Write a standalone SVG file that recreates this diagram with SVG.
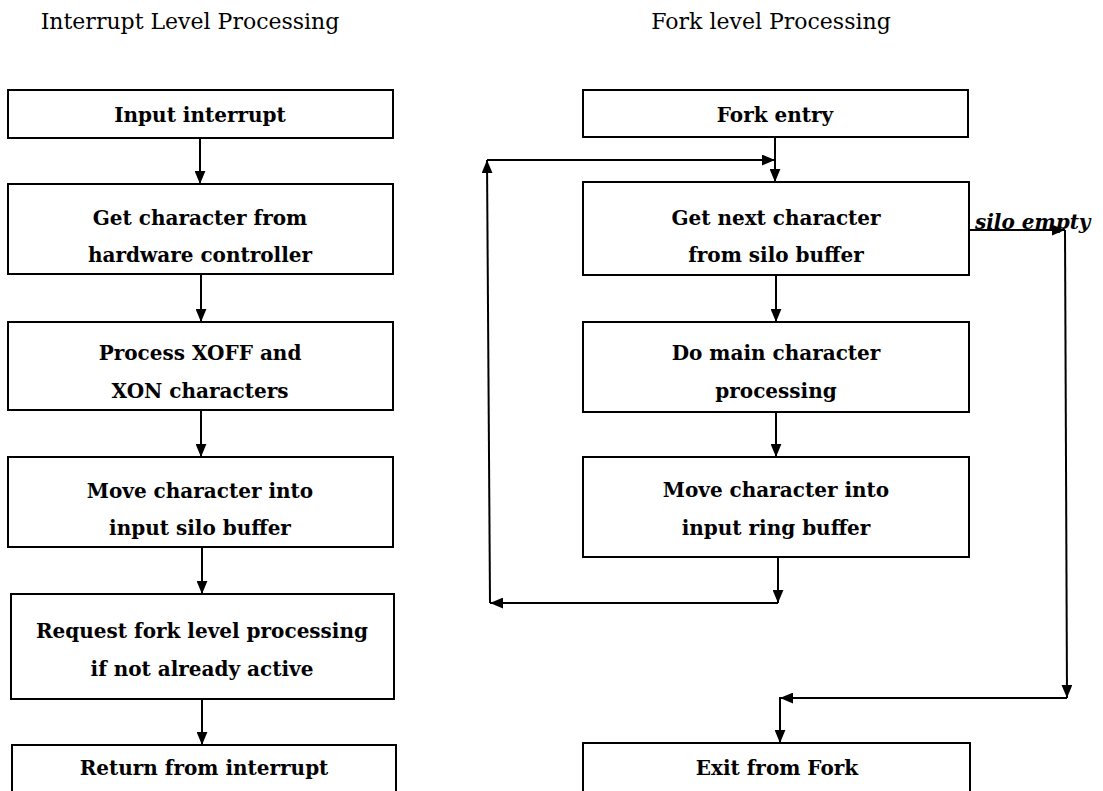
<svg xmlns="http://www.w3.org/2000/svg" width="1103" height="791" viewBox="0 0 1103 791">
<style>
.box{fill:none;stroke:#000;stroke-width:2}
.ln{fill:none;stroke:#000;stroke-width:2}
.t{font-family:"DejaVu Serif","Liberation Serif",serif;font-weight:bold;font-size:20px;text-anchor:middle;fill:#000}
.h{font-family:"DejaVu Serif","Liberation Serif",serif;font-size:22px;text-anchor:middle;fill:#000}
.lbl{font-family:"DejaVu Serif","Liberation Serif",serif;font-weight:bold;font-style:italic;font-size:20px;fill:#000}
</style>
<defs>
<marker id="ah" viewBox="0 0 12 10" refX="12" refY="5" markerWidth="13" markerHeight="11" markerUnits="userSpaceOnUse" orient="auto"><path d="M0,0 L12,5 L0,10 z" fill="#000"/></marker>
</defs>
<rect width="1103" height="791" fill="#fff"/>
<text class="h" x="190" y="29">Interrupt Level Processing</text>
<text class="h" x="771" y="29">Fork level Processing</text>

<g id="n_input"><rect class="box" x="8" y="90" width="385" height="48"/><text class="t" x="200" y="122">Input interrupt</text></g>
<g id="n_getchar"><rect class="box" x="8" y="184" width="385" height="90"/><text class="t" x="200" y="225">Get character from</text><text class="t" x="200" y="262">hardware controller</text></g>
<g id="n_xoff"><rect class="box" x="8" y="322" width="385" height="88"/><text class="t" x="200" y="360">Process XOFF and</text><text class="t" x="200" y="398">XON characters</text></g>
<g id="n_movesilo"><rect class="box" x="8" y="457" width="385" height="90"/><text class="t" x="200" y="498">Move character into</text><text class="t" x="200" y="535">input silo buffer</text></g>
<g id="n_request"><rect class="box" x="11" y="594" width="383" height="105"/><text class="t" x="202" y="638">Request fork level processing</text><text class="t" x="202" y="676">if not already active</text></g>
<g id="n_return"><rect class="box" x="12" y="745" width="384" height="60"/><text class="t" x="204" y="775">Return from interrupt</text></g>

<g id="n_forkentry"><rect class="box" x="583" y="90" width="385" height="47"/><text class="t" x="775" y="122">Fork entry</text></g>
<g id="n_getnext"><rect class="box" x="583" y="182" width="386" height="93"/><text class="t" x="776" y="225">Get next character</text><text class="t" x="776" y="262">from silo buffer</text></g>
<g id="n_domain"><rect class="box" x="583" y="322" width="386" height="90"/><text class="t" x="776" y="360">Do main character</text><text class="t" x="776" y="398">processing</text></g>
<g id="n_movering"><rect class="box" x="583" y="457" width="386" height="100"/><text class="t" x="776" y="497">Move character into</text><text class="t" x="776" y="535">input ring buffer</text></g>
<g id="n_exit"><rect class="box" x="583" y="743" width="387" height="60"/><text class="t" x="777" y="775">Exit from Fork</text></g>

<g id="connectors">
<line class="ln" x1="200" y1="138" x2="200" y2="184" marker-end="url(#ah)"/>
<line class="ln" x1="201" y1="274" x2="201" y2="322" marker-end="url(#ah)"/>
<line class="ln" x1="201" y1="410" x2="201" y2="457" marker-end="url(#ah)"/>
<line class="ln" x1="202" y1="547" x2="202" y2="594" marker-end="url(#ah)"/>
<line class="ln" x1="202" y1="699" x2="202" y2="745" marker-end="url(#ah)"/>

<line class="ln" x1="775" y1="137" x2="775" y2="182" marker-end="url(#ah)"/>
<line class="ln" x1="776" y1="275" x2="776" y2="322" marker-end="url(#ah)"/>
<line class="ln" x1="776" y1="412" x2="776" y2="457" marker-end="url(#ah)"/>
<line class="ln" x1="778" y1="557" x2="778" y2="603" marker-end="url(#ah)"/>
<line class="ln" x1="778" y1="603" x2="490" y2="603" marker-end="url(#ah)"/>
<line class="ln" x1="490" y1="603" x2="487" y2="160" marker-end="url(#ah)"/>
<line class="ln" x1="487" y1="160" x2="775" y2="160" marker-end="url(#ah)"/>

<line class="ln" x1="969" y1="230" x2="1065" y2="230" marker-end="url(#ah)"/>
<line class="ln" x1="1065" y1="230" x2="1067" y2="698" marker-end="url(#ah)"/>
<line class="ln" x1="1067" y1="698" x2="780" y2="698" marker-end="url(#ah)"/>
<line class="ln" x1="780" y1="697" x2="780" y2="743" marker-end="url(#ah)"/>
</g>
<text class="lbl" x="975" y="229">silo empty</text>
</svg>
